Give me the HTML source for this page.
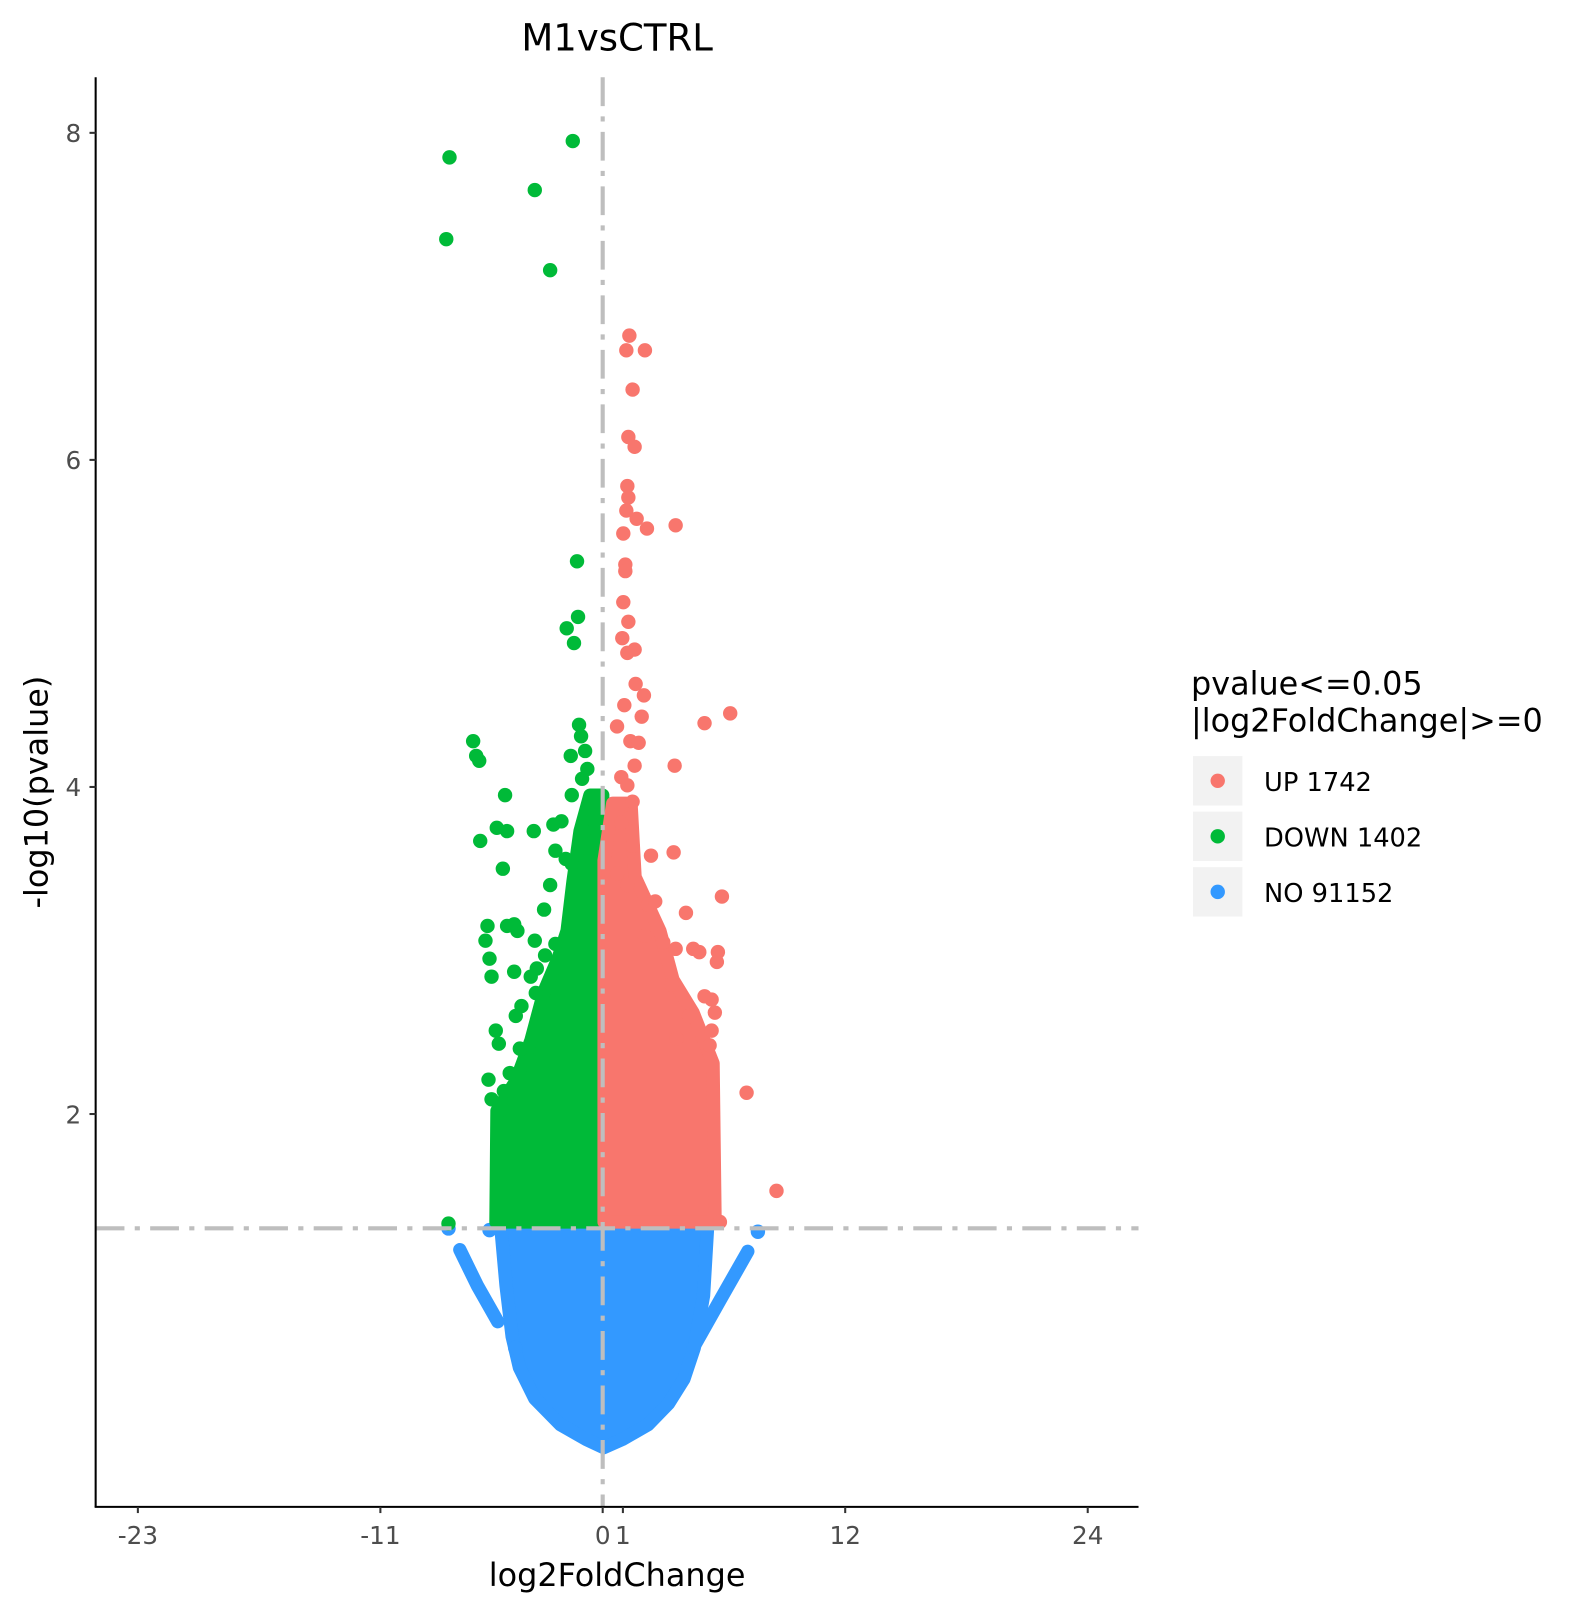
<!DOCTYPE html>
<html><head><meta charset="utf-8"><style>
html,body{margin:0;padding:0;background:#fff;}
svg{display:block;font-family:"DejaVu Sans","Liberation Sans",sans-serif;}
</style></head><body>
<svg id="chart" width="1589" height="1613" viewBox="0 0 1545 1568" xmlns="http://www.w3.org/2000/svg">
<text x="600" y="49" font-size="36" text-anchor="middle" fill="#000">M1vsCTRL</text>
<g id="plot"></g>
<g id="axes"></g>
<text x="600" y="1542" font-size="31" text-anchor="middle" fill="#000">log2FoldChange</text>
<text transform="translate(46,770) rotate(-90)" font-size="31" text-anchor="middle" fill="#000">-log10(pvalue)</text>
<g>
<text x="1158" y="675" font-size="31" fill="#000">pvalue&lt;=0.05</text>
<text x="1158" y="711" font-size="31" fill="#000">|log2FoldChange|&gt;=0</text>
<g><rect x="1160" y="735" width="48" height="48" fill="#f2f2f2"/><circle cx="1184" cy="759" r="7" fill="#F8766D"/><text x="1229" y="769" font-size="25" fill="#000">UP 1742</text></g>
<g><rect x="1160" y="789" width="48" height="48" fill="#f2f2f2"/><circle cx="1184" cy="813" r="7" fill="#00BA38"/><text x="1229" y="823" font-size="25" fill="#000">DOWN 1402</text></g>
<g><rect x="1160" y="843" width="48" height="48" fill="#f2f2f2"/><circle cx="1184" cy="867" r="7" fill="#3399FF"/><text x="1229" y="877" font-size="25" fill="#000">NO 91152</text></g>
</g>
</svg>
<script>
const xTicks=[-23,-11,0,1,12,24];
const yTicks=[2,4,6,8];
const pThreshold=1.301;
const greenX=[-7.58,-1.48,-3.36,-7.74,-2.60,-1.27,-1.22,-1.78,-1.42,-6.41,-6.26,-6.11,-1.17,-1.07,-0.87,-1.58,-0.76,-1.02,-4.83,-1.53,-5.24,-4.73,-3.41,-2.44,-2.04,-0.92,-6.06,-1.07,-4.94,-2.34,-1.83,-1.53,-5.70,-4.73,-4.38,-4.22,-5.80,-3.36,-2.34,-5.60,-2.85,-5.50,-4.38,-3.56,-3.26,-2.95,-3.31,-4.02,-5.29,-5.14,-3.61,-5.65,-4.89,-5.50,-4.99,-7.63,-2.6,-2.9,-4.1,-4.6,-4.3];
const greenY=[7.85,7.95,7.65,7.35,7.16,5.38,5.04,4.97,4.88,4.28,4.19,4.16,4.38,4.31,4.22,4.19,4.11,4.05,3.95,3.95,3.75,3.73,3.73,3.77,3.79,3.73,3.67,3.67,3.50,3.61,3.56,3.53,3.15,3.15,3.16,3.12,3.06,3.06,3.04,2.95,2.97,2.84,2.87,2.84,2.89,2.74,2.74,2.66,2.51,2.43,2.33,2.21,2.14,2.09,2.03,1.33,3.40,3.25,2.40,2.25,2.60];
const redX=[1.32,1.17,2.09,1.48,1.27,1.58,1.22,1.27,1.17,1.68,2.19,3.61,1.02,1.12,1.12,1.02,1.27,0.97,1.58,1.22,1.63,2.04,1.07,1.93,5.04,6.31,0.71,1.37,1.78,1.58,3.56,0.92,1.22,1.48,1.32,0.92,1.48,2.39,3.51,0.71,1.22,2.24,4.12,5.90,2.09,3.61,4.48,4.78,5.70,5.65,3.41,5.04,5.39,5.55,4.27,5.39,3.66,5.29,7.12,8.60,5.80,2.6,3.0];
const redY=[6.76,6.67,6.67,6.43,6.14,6.08,5.84,5.77,5.69,5.64,5.58,5.60,5.55,5.36,5.32,5.13,5.01,4.91,4.84,4.82,4.63,4.56,4.50,4.43,4.39,4.45,4.37,4.28,4.27,4.13,4.13,4.06,4.01,3.91,3.81,3.78,3.64,3.58,3.60,3.47,3.40,3.28,3.23,3.33,3.09,3.01,3.01,2.99,2.99,2.93,2.79,2.72,2.70,2.62,2.60,2.51,2.46,2.42,2.13,1.53,1.34,3.30,3.05];
const greenDenseX=[-5.28,-5.23,-4.3,-3.55,-2.9,-2.21,-1.76,-1.47,-1.12,-0.63,0.0,0.0];
const greenDenseY=[1.34,2.02,2.2,2.45,2.75,2.95,3.12,3.42,3.73,3.95,3.95,1.34];
const redDenseX=[0.07,0.07,0.5,1.4,1.6,2.83,3.48,4.47,5.46,5.56];
const redDenseY=[1.34,3.55,3.9,3.9,3.45,3.12,2.82,2.62,2.31,1.34];
const blueDenseX=[-5.04,-4.78,-4.48,-4.12,-3.36,-2.09,-0.81,0.05,0.97,2.24,3.26,4.02,4.53,4.99,5.19];
const blueDenseY=[1.31,0.95,0.64,0.45,0.26,0.10,0.01,-0.04,0.01,0.10,0.23,0.38,0.57,0.89,1.31];
const blueArmLX=[-7.07,-6.2,-5.19];
const blueArmLY=[1.17,0.95,0.73];
const blueArmRX=[7.18,5.8,4.48];
const blueArmRY=[1.16,0.86,0.57];
const blueX=[-7.63,7.68,-5.6,-4.33];
const blueY=[1.30,1.28,1.29,0.57];

const NS="http://www.w3.org/2000/svg";
const X0=586,XS=19.65,Y0=1401,YS=159;
function sx(v){return X0+v*XS;}
function sy(v){return Y0-v*YS;}
const plot=document.getElementById('plot');
const axes=document.getElementById('axes');
function mk(tag,attrs,parent){const e=document.createElementNS(NS,tag);for(const k in attrs)e.setAttribute(k,attrs[k]);parent.appendChild(e);return e;}
function poly(xs,ys,color,name,closed){
  const pts=xs.map((v,i)=>sx(v)+','+sy(ys[i])).join(' ');
  const e=mk(closed?'polygon':'polyline',{points:pts,fill:closed?color:'none',stroke:color,'stroke-width':13,'stroke-linejoin':'round','stroke-linecap':'round'},plot);
  
  
}
function dots(xs,ys,color,name){
  xs.forEach((v,i)=>{
    const c=mk('circle',{cx:sx(v),cy:sy(ys[i]),r:7,fill:color},plot);
    
    
  });
}
poly(blueDenseX,blueDenseY,'#3399FF','no-dense-region',true);
poly(blueArmLX,blueArmLY,'#3399FF','no-left-arm',false);
poly(blueArmRX,blueArmRY,'#3399FF','no-right-arm',false);
dots(blueX,blueY,'#3399FF','no-point');
poly(greenDenseX,greenDenseY,'#00BA38','down-dense-region',true);
poly(redDenseX,redDenseY,'#F8766D','up-dense-region',true);
dots(greenX,greenY,'#00BA38','down-point');
dots(redX,redY,'#F8766D','up-point');
const hl=mk('line',{x1:93,x2:1107,y1:sy(pThreshold),y2:sy(pThreshold),stroke:'#bebebe','stroke-width':4,'stroke-dasharray':'28 10 5 10'},plot);


const vl=mk('line',{x1:sx(0),x2:sx(0),y1:75,y2:1465,stroke:'#bebebe','stroke-width':4,'stroke-dasharray':'28 10 5 10'},plot);


const ya=mk('line',{x1:93,x2:93,y1:75,y2:1465,stroke:'#000','stroke-width':2},axes);


const xa=mk('line',{x1:92,x2:1107,y1:1465,y2:1465,stroke:'#000','stroke-width':2},axes);


xTicks.forEach(t=>{
  const tk=mk('line',{x1:sx(t),x2:sx(t),y1:1465,y2:1471,stroke:'#333','stroke-width':2},axes);
  
  
  const tx=mk('text',{x:sx(t),y:1501,'font-size':24,'text-anchor':'middle',fill:'#4d4d4d'},axes);
  tx.textContent=t;
  
  
});
yTicks.forEach(t=>{
  const tk=mk('line',{x1:87,x2:93,y1:sy(t),y2:sy(t),stroke:'#333','stroke-width':2},axes);
  
  
  const tx=mk('text',{x:79,y:sy(t)+9,'font-size':24,'text-anchor':'end',fill:'#4d4d4d'},axes);
  tx.textContent=t;
  
  
});
</script>
</body></html>
